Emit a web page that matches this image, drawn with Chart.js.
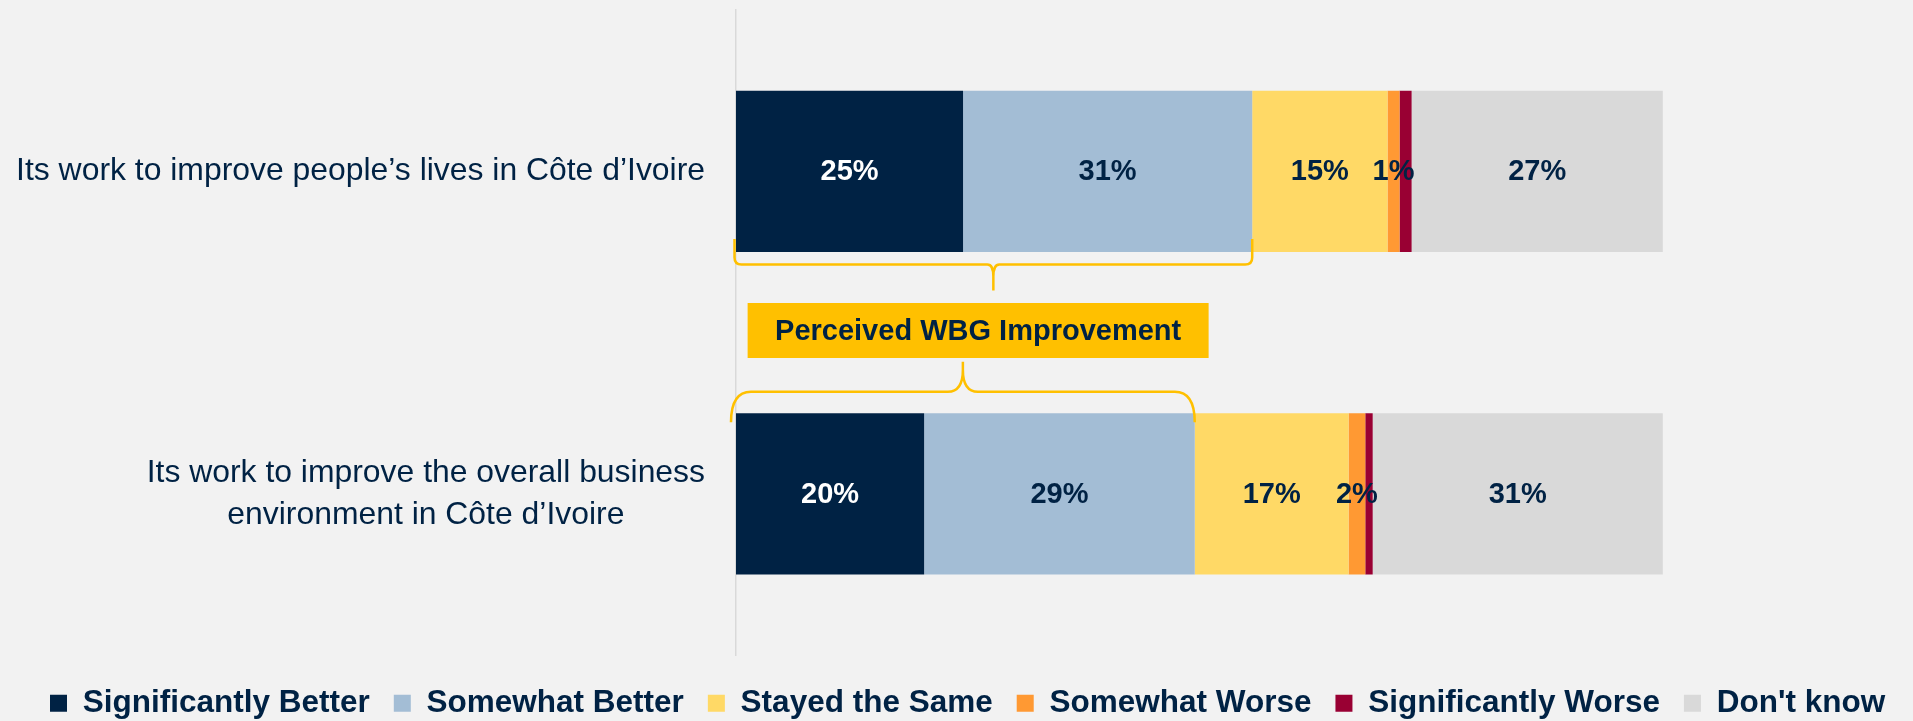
<!DOCTYPE html>
<html>
<head>
<meta charset="utf-8">
<script src="https://cdn.jsdelivr.net/npm/chart.js@4.4.1/dist/chart.umd.min.js"></script>
<style>
  html, body { margin: 0; padding: 0; background: #f2f2f2; overflow: hidden; }
  #wrap { position: relative; width: 1913px; height: 729px; }
</style>
</head>
<body>
<div id="wrap"><canvas id="chart"></canvas></div>
<script>
const categories = [
  ['Its work to improve people’s lives in Côte d’Ivoire'],
  ['Its work to improve the overall business', 'environment in Côte d’Ivoire']
];
const seriesNames = ['Significantly Better', 'Somewhat Better', 'Stayed the Same', 'Somewhat Worse', 'Significantly Worse', "Don't know"];
const significantlyBetter = [24.5, 20.3];
const somewhatBetter = [31.2, 29.2];
const stayedSame = [14.6, 16.6];
const somewhatWorse = [1.3, 1.8];
const significantlyWorse = [1.3, 0.8];
const dontKnow = [27.1, 31.3];
const seriesColors = ['#002244', '#a3bdd5', '#ffd966', '#ff9933', '#990033', '#d9d9d9'];
const calloutText = 'Perceived WBG Improvement';

const NAVY = '#002244';
const GOLD = '#ffc000';
const FONT = '"Liberation Sans", Arial, sans-serif';
// x runs past 100 so the bars stop short of the right edge like the original
const X_MAX = 127;

const allSeries = [significantlyBetter, somewhatBetter, stayedSame, somewhatWorse, significantlyWorse, dontKnow];

// category text: block right aligned, lines centred inside it
const categoryLabels = {
  id: 'categoryLabels',
  afterDraw(chart) {
    const ctx = chart.ctx;
    const y = chart.scales.y;
    ctx.save();
    ctx.font = '31.9px ' + FONT;
    ctx.fillStyle = NAVY;
    ctx.textAlign = 'center';
    ctx.textBaseline = 'middle';
    categories.forEach((lines, i) => {
      const cy = y.getPixelForValue(i);
      const w = Math.max(...lines.map(l => ctx.measureText(l).width));
      const cx = y.right - 31 - w / 2;
      lines.forEach((l, j) => {
        ctx.fillText(l, cx, cy + (j - (lines.length - 1) / 2) * 42);
      });
    });
    ctx.restore();
  }
};

const barLabels = {
  id: 'barLabels',
  afterDatasetsDraw(chart) {
    const ctx = chart.ctx;
    ctx.save();
    ctx.font = 'bold 29px ' + FONT;
    ctx.textAlign = 'center';
    ctx.textBaseline = 'middle';
    chart.data.datasets.forEach((ds, i) => {
      if (i === 4) return; // the tiny red slice has no label
      chart.getDatasetMeta(i).data.forEach((bar, j) => {
        ctx.fillStyle = i === 0 ? '#ffffff' : NAVY;
        ctx.fillText(Math.round(ds.data[j]) + '%', (bar.x + bar.base) / 2, bar.y + 1);
      });
    });
    ctx.restore();
  }
};

function drawBrace(ctx, xL, xR, yEnd, yMid, yTip, endR, tipR) {
  const s = Math.sign(yMid - yEnd);
  const xc = (xL + xR) / 2;
  ctx.beginPath();
  ctx.moveTo(xL, yEnd);
  ctx.lineTo(xL, yMid - s * endR[1]);
  ctx.quadraticCurveTo(xL, yMid, xL + endR[0], yMid);
  ctx.lineTo(xc - tipR[0], yMid);
  ctx.quadraticCurveTo(xc, yMid, xc, yMid + s * tipR[1]);
  ctx.lineTo(xc, yTip);
  ctx.moveTo(xc, yMid + s * tipR[1]);
  ctx.quadraticCurveTo(xc, yMid, xc + tipR[0], yMid);
  ctx.lineTo(xR - endR[0], yMid);
  ctx.quadraticCurveTo(xR, yMid, xR, yMid - s * endR[1]);
  ctx.lineTo(xR, yEnd);
  ctx.stroke();
  return xc;
}

const callout = {
  id: 'callout',
  afterDraw(chart) {
    const ctx = chart.ctx;
    const first = chart.getDatasetMeta(0).data;
    const second = chart.getDatasetMeta(1).data;
    const a = first[0], b = first[1];
    ctx.save();
    ctx.strokeStyle = GOLD;
    ctx.lineWidth = 2.5;
    const aBottom = a.y + a.height / 2;
    const tipA = drawBrace(ctx, a.base - 1.5, second[0].x, aBottom - 13, aBottom + 12.5, aBottom + 38.5, [7, 7], [6, 12]);
    const bTop = b.y - b.height / 2;
    const tipB = drawBrace(ctx, b.base - 5, second[1].x, bTop + 9, bTop - 21.5, bTop - 51.5, [20, 30.5], [15, 22]);

    const cx = (tipA + tipB) / 2;
    const cy = (a.y + b.y) / 2 - 2;
    const w = 461, h = 55;
    ctx.fillStyle = GOLD;
    ctx.fillRect(cx - w / 2, cy - h / 2, w, h);
    ctx.font = 'bold 29px ' + FONT;
    ctx.fillStyle = NAVY;
    ctx.textAlign = 'center';
    ctx.textBaseline = 'middle';
    ctx.fillText(calloutText, cx, cy + 1);
    ctx.restore();
  }
};

new Chart(document.getElementById('chart'), {
  type: 'bar',
  data: {
    labels: categories,
    datasets: allSeries.map((values, i) => ({
      label: seriesNames[i],
      data: values,
      backgroundColor: seriesColors[i],
      borderWidth: 0,
      barPercentage: 0.5,
      categoryPercentage: 1.0
    }))
  },
  options: {
    indexAxis: 'y',
    responsive: true,
    maintainAspectRatio: false,
    animation: false,
    layout: { padding: { top: 10, left: 26, right: 0, bottom: 0 } },
    scales: {
      x: {
        stacked: true,
        min: 0,
        max: X_MAX,
        grid: { display: false },
        border: { display: false },
        ticks: { display: false },
        afterFit(scale) { scale.height = 8.5; }
      },
      y: {
        stacked: true,
        grid: { display: false, drawTicks: false },
        ticks: { display: false },
        border: { display: true, color: '#d9d9d9', width: 1.5 },
        afterFit(scale) { scale.width = 710; }
      }
    },
    plugins: {
      legend: {
        position: 'bottom',
        align: 'start',
        labels: {
          boxWidth: 17,
          boxHeight: 17,
          padding: 24,
          color: NAVY,
          font: { family: FONT, size: 31.5, weight: 'bold' }
        }
      },
      tooltip: { enabled: false }
    }
  },
  plugins: [categoryLabels, barLabels, callout]
});
</script>
</body>
</html>
